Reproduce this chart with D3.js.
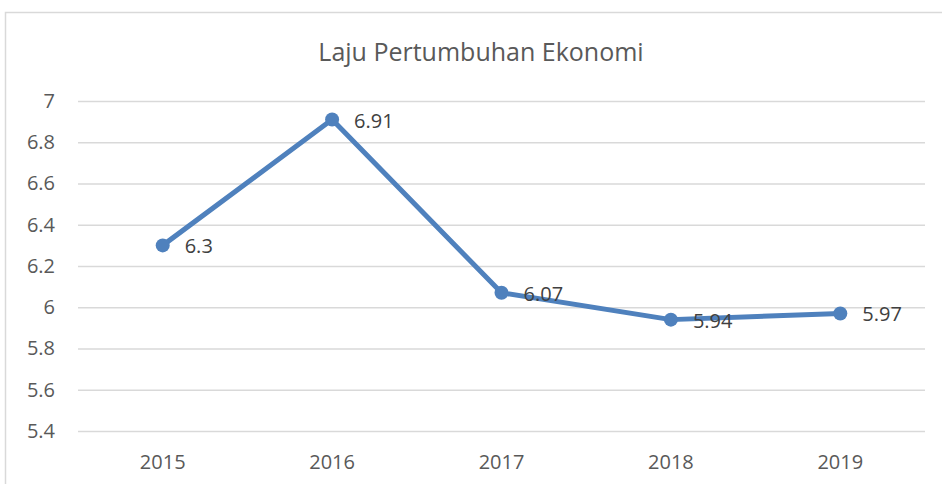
<!DOCTYPE html>
<html>
  <head>
    <meta charset="UTF-8">
    <title></title>
    <style>
    body { margin: 0; background: #fff; }
    svg { display: block; }
    text { font-family: "Open Sans", sans-serif; fill: #595959; }
    </style>
  </head>
  <body>
    <svg id="chart"></svg>
  </body>
  <script src="https://cdn.jsdelivr.net/npm/d3@7/dist/d3.min.js"></script>
  <script>
  var years = ["2015", "2016", "2017", "2018", "2019"];
  var growth = [6.3, 6.91, 6.07, 5.94, 5.97];
  var yTicks = [5.4, 5.6, 5.8, 6, 6.2, 6.4, 6.6, 6.8, 7];
  var chartTitle = "Laju Pertumbuhan Ekonomi";

  var width = 942, height = 484;
  var padL = 78, padR = 925, padT = 101, padB = 431;

  var svg = d3.select("#chart").attr("width", width).attr("height", height);

  // chart frame
  svg.append("rect")
    .attr("x", 5.5).attr("y", 12.5)
    .attr("width", 960).attr("height", 500)
    .style("fill", "none")
    .style("stroke", "#d9d9d9")
    .style("stroke-width", 1.5);

  svg.append("text")
    .attr("x", 481).attr("y", 61)
    .attr("text-anchor", "middle")
    .style("font-size", "25px")
    .text(chartTitle);

  var x = d3.scaleBand().domain(years).range([padL, padR]);
  var y = d3.scaleLinear().domain([5.4, 7]).range([padB, padT]);

  var yAxis = svg.append("g")
    .attr("transform", "translate(" + padL + ",0)")
    .call(d3.axisLeft(y).tickValues(yTicks).tickSize(-(padR - padL)).tickPadding(23).tickFormat(d3.format("")));
  yAxis.select(".domain").remove();
  yAxis.selectAll(".tick line").style("stroke", "#d9d9d9").style("stroke-width", 1.5);
  yAxis.selectAll(".tick text").style("font-size", "20px").style("font-family", "Open Sans").attr("fill", "#595959");

  var xAxis = svg.append("g")
    .attr("transform", "translate(0," + padB + ")")
    .call(d3.axisBottom(x).tickSize(0).tickPadding(24));
  xAxis.select(".domain").remove();
  xAxis.selectAll(".tick text").style("font-size", "20px").style("font-family", "Open Sans").attr("fill", "#595959");

  var pts = years.map(function(yr, i) { return [x(yr) + x.bandwidth() / 2, y(growth[i])]; });

  svg.append("path")
    .datum(pts)
    .attr("d", d3.line())
    .style("fill", "none")
    .style("stroke", "#4f81bd")
    .style("stroke-width", 5)
    .style("stroke-linejoin", "round");

  svg.selectAll(".dot")
    .data(pts)
    .enter()
    .append("circle")
    .attr("class", "dot")
    .attr("cx", function(d) { return d[0]; })
    .attr("cy", function(d) { return d[1]; })
    .attr("r", 7)
    .style("fill", "#4f81bd");

  svg.selectAll(".lbl")
    .data(pts)
    .enter()
    .append("text")
    .attr("class", "lbl")
    .attr("x", function(d) { return d[0] + 22; })
    .attr("y", function(d) { return d[1] + 8; })
    .style("font-size", "20px")
    .style("fill", "#404040")
    .text(function(d, i) { return growth[i]; });
  </script>
</html>
